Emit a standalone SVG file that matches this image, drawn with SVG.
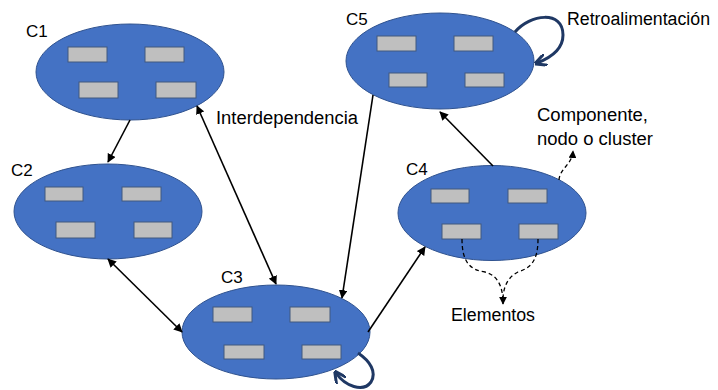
<svg xmlns="http://www.w3.org/2000/svg" width="718" height="390" viewBox="0 0 718 390">
<style>
.node ellipse{fill:#4472C4;stroke:#2F528F;stroke-width:1}
.node rect{fill:#BFBFBF;stroke:#41597F;stroke-width:1}
text{font-family:"Liberation Sans",Arial,sans-serif;font-size:18px;fill:#000}
.node text{font-size:17px}
.c{stroke:#000;stroke-width:1.6;fill:none}
.loop{stroke:#1F3864;stroke-width:3;fill:none}
.dash{stroke:#000;stroke-width:1.3;fill:none;stroke-dasharray:4 3}
</style>
<defs>
<marker id="ah" viewBox="0 0 10 10" refX="9" refY="5" markerWidth="5.5" markerHeight="5.5" orient="auto-start-reverse" markerUnits="strokeWidth"><path d="M0,0L10,5L0,10z" fill="#000"/></marker>
<marker id="ahl" viewBox="0 0 10 10" refX="8" refY="5" markerWidth="4" markerHeight="4" orient="auto" markerUnits="strokeWidth"><path d="M0,0L10,5L0,10" fill="none" stroke="#1F3864" stroke-width="2.5"/></marker>
<marker id="ahd" viewBox="0 0 10 10" refX="9" refY="5" markerWidth="6" markerHeight="6" orient="auto" markerUnits="strokeWidth"><path d="M0,0L10,5L0,10z" fill="#000"/></marker>
</defs>
<g id="C1" class="node">
<ellipse cx="130" cy="72" rx="94" ry="48"/>
<rect x="68" y="47" width="39" height="15"/><rect x="145" y="47" width="39" height="15"/>
<rect x="79" y="82" width="39" height="16"/><rect x="156" y="82" width="40" height="16"/>
<text x="26" y="37">C1</text>
</g>
<g id="C2" class="node">
<ellipse cx="108" cy="211.5" rx="94" ry="47.5"/>
<rect x="45" y="187" width="38" height="14"/><rect x="122" y="187" width="39" height="14"/>
<rect x="56" y="222" width="39" height="16"/><rect x="134" y="222" width="38" height="16"/>
<text x="11" y="176">C2</text>
</g>
<g id="C3" class="node">
<ellipse cx="276" cy="332" rx="94" ry="47"/>
<rect x="213" y="307" width="39" height="15"/><rect x="290" y="307" width="40" height="15"/>
<rect x="224" y="345" width="40" height="14"/><rect x="302" y="345" width="39" height="14"/>
<text x="221" y="283">C3</text>
</g>
<g id="C4" class="node">
<ellipse cx="492" cy="213" rx="94" ry="47.5"/>
<rect x="431" y="189" width="38" height="14"/><rect x="508" y="189" width="39" height="14"/>
<rect x="442" y="224" width="39" height="15"/><rect x="519" y="224" width="39" height="15"/>
<text x="406" y="175">C4</text>
</g>
<g id="C5" class="node">
<ellipse cx="440" cy="61" rx="94" ry="48"/>
<rect x="377" y="36" width="39" height="15"/><rect x="454" y="36" width="39" height="15"/>
<rect x="389" y="73" width="38" height="14"/><rect x="465" y="73" width="39" height="14"/>
<text x="346" y="25">C5</text>
</g>
<g id="connectors">
<line class="c" x1="130" y1="120" x2="108" y2="162" marker-end="url(#ah)"/>
<line class="c" x1="197" y1="106" x2="276" y2="284" marker-start="url(#ah)" marker-end="url(#ah)"/>
<line class="c" x1="108" y1="259" x2="182" y2="332" marker-start="url(#ah)" marker-end="url(#ah)"/>
<line class="c" x1="373" y1="95" x2="342" y2="298" marker-end="url(#ah)"/>
<line class="c" x1="368" y1="332" x2="425" y2="247" marker-end="url(#ah)"/>
<line class="c" x1="493" y1="166" x2="440" y2="112" marker-end="url(#ah)"/>
<path class="loop" d="M515,32 C530,14 563,10 563,35 C563,50 550,58 537,63" marker-end="url(#ahl)"/>
<path class="loop" d="M358,353 C370,361 377,372 371,382 C363,393 345,386 336,373" marker-end="url(#ahl)"/>
<path class="dash" d="M462,239 C462,262 470,270 485,272 C500,276 503,290 503,304" marker-end="url(#ahd)"/>
<path class="dash" d="M538,239 C538,262 530,268 518,272 C506,278 503,290 503,300"/>
<path class="dash" d="M559,180 C560,168 572,165 573,151" marker-end="url(#ahd)"/>
</g>
<g id="labels">
<text x="216" y="124" textLength="142" lengthAdjust="spacingAndGlyphs">Interdependencia</text>
<text x="567" y="25" textLength="143" lengthAdjust="spacingAndGlyphs">Retroalimentación</text>
<text x="537" y="121" textLength="111" lengthAdjust="spacingAndGlyphs">Componente,</text>
<text x="537" y="145" textLength="116" lengthAdjust="spacingAndGlyphs">nodo o cluster</text>
<text x="451" y="321" textLength="84" lengthAdjust="spacingAndGlyphs">Elementos</text>
</g>
</svg>
